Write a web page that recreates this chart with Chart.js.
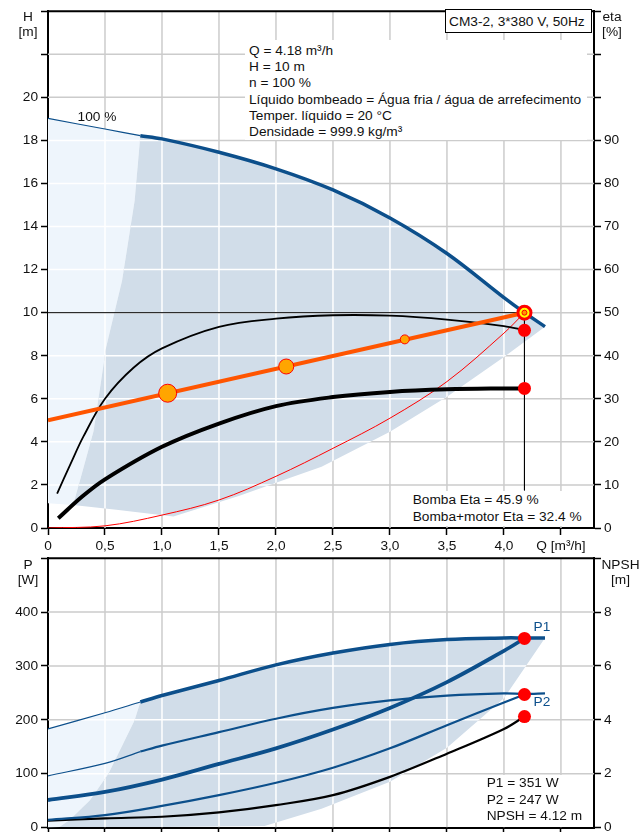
<!DOCTYPE html>
<html>
<head>
<meta charset="utf-8">
<script src="https://cdn.jsdelivr.net/npm/chart.js@4.4.1/dist/chart.umd.min.js"></script>
<style>
  html, body { margin: 0; padding: 0; background: #fff; overflow: hidden; width: 639px; height: 832px; }
  body { position: relative; font-family: 'Liberation Sans', Arial, sans-serif; font-size: 13.7px; color: #111; }
  canvas { position: absolute; left: 0; }
  #topChart { top: 0; }
  #botChart { top: 547px; }
  .t { position: absolute; white-space: nowrap; line-height: 16.2px; box-sizing: border-box; }
  .c { text-align: center; line-height: 14.5px; }
  .bg { background: #fff; }
</style>
</head>
<body>
<canvas id="topChart" width="639" height="556"></canvas>
<canvas id="botChart" width="639" height="310"></canvas>

<div class="t c" style="left:8px;top:10px;width:40px">H<br>[m]</div>
<div class="t c" style="left:592px;top:10px;width:40px">eta<br>[%]</div>
<div class="t c" style="left:8px;top:557px;width:40px;line-height:15px">P<br>[W]</div>
<div class="t c" style="left:600px;top:557px;width:41px;line-height:15px">NPSH<br>[m]</div>

<div class="t bg" style="left:445px;top:9px;width:147px;height:24px;border:1px solid #000;padding:2px 0 0 3px;line-height:19px">CM3-2, 3*380 V, 50Hz</div>
<div class="t bg" style="left:245px;top:40px;width:342px;height:100px;padding:3px 0 0 4px">Q = 4.18 m³/h<br>H = 10 m<br>n = 100 %<br>Líquido bombeado = Água fria / água de arrefecimento<br>Temper. líquido = 20 °C<br>Densidade = 999.9 kg/m³</div>
<div class="t" style="left:67px;top:109px;width:60px;text-align:center">100 %</div>
<div class="t bg" style="left:410px;top:491px;width:180px;height:35px;padding:1.4px 0 0 2.7px">Bomba Eta = 45.9 %<br>Bomba+motor Eta = 32.4 %</div>

<div class="t" style="left:533.5px;top:619px;color:#0c4f8b">P1</div>
<div class="t" style="left:533.5px;top:694px;color:#0c4f8b">P2</div>
<div class="t bg" style="left:484px;top:775px;width:106px;height:52px;padding:0.4px 0 0 2.7px">P1 = 351 W<br>P2 = 247 W<br>NPSH = 4.12 m</div>

<script>
// flow axis, shared by both panels (m³/h)
const qMax = 4.79;
const xTickValues = [0, 0.5, 1, 1.5, 2, 2.5, 3, 3.5, 4, 4.5];
const xTickLabels = ['0', '0,5', '1,0', '1,5', '2,0', '2,5', '3,0', '3,5', '4,0', 'Q [m³/h]'];

// top panel axes
const hTickValues = [0, 2, 4, 6, 8, 10, 12, 14, 16, 18, 20, 22, 24];
const hTickLabels = ['0', '2', '4', '6', '8', '10', '12', '14', '16', '18', '20', '', ''];
const etaTickValues = [0, 10, 20, 30, 40, 50, 60, 70, 80, 90, 100, 110, 120];
const etaTickLabels = ['0', '10', '20', '30', '40', '50', '60', '70', '80', '90', '', '', ''];

// bottom panel axes
const pTickValues = [0, 100, 200, 300, 400, 500];
const pTickLabels = ['0', '100', '200', '300', '400', ''];
const npshTickValues = [0, 2, 4, 6, 8, 10];
const npshTickLabels = ['0', '2', '4', '6', '8', ''];

// QH curve at 100 % speed
const hQ   = [0, 0.5, 0.81, 1.0, 1.5, 2.0, 2.5, 3.0, 3.5, 4.0, 4.18, 4.36];
const hVal = [19.02, 18.53, 18.22, 18.07, 17.45, 16.68, 15.7, 14.4, 12.75, 10.7, 10.0, 9.35];

// efficiency, pump only and pump+motor (%)
const etaPumpQ   = [0.08, 0.2, 0.31, 0.5, 0.75, 1.0, 1.5, 2.0, 2.5, 3.0, 3.5, 4.0, 4.18];
const etaPumpVal = [8, 15, 21.2, 30, 37.2, 41.7, 46.7, 48.6, 49.4, 49.3, 48.4, 46.9, 45.9];
const etaTotQ    = [0.09, 0.3, 0.5, 1.0, 1.5, 2.0, 2.5, 3.0, 3.5, 4.0, 4.18];
const etaTotVal  = [2.25, 7.3, 11.3, 18.85, 24.25, 28.3, 30.4, 31.6, 32.2, 32.4, 32.4];

// control curve and its speed markers
const ctrlQ = [0, 4.18];
const ctrlH = [5.0, 10.0];
const ctrlMarkQ = [1.05, 2.09, 3.13];
const ctrlMarkH = [6.26, 7.5, 8.76];
const ctrlMarkR = [9, 7.5, 4.5];

// system curve through the duty point
const sysQ = [0, 0.5, 1.0, 1.5, 2.0, 2.5, 3.0, 3.5, 4.0, 4.18];
const sysH = [0, 0.1, 0.6, 1.3, 2.4, 3.7, 5.1, 6.8, 9.05, 10.0];

// duty point and read-off values
const dutyQ = 4.18, dutyH = 10.0, dutyEtaPump = 45.9, dutyEtaTot = 32.4;
const guideQ = [0, 4.18, 4.18];
const guideH = [10, 10, 1.75];

// shaded operating range, top panel
const lightTopQ = [0, 0.5, 0.81, 0.76, 0.65, 0.51, 0.4, 0.28, 0.22, 0];
const lightTopH = [19.02, 18.53, 18.22, 15.2, 11.5, 8.4, 4.5, 2.2, 1.07, 1.15];
const darkTopQ = [0.81, 1.0, 1.5, 2.0, 2.5, 3.0, 3.5, 4.0, 4.0, 4.18, 4.36, 4.0, 3.5, 3.0, 2.4, 2.0, 1.68, 1.1, 0.6, 0.22, 0.28, 0.4, 0.51, 0.65, 0.76];
const darkTopH = [18.22, 18.07, 17.45, 16.68, 15.7, 14.4, 12.75, 10.7, 10.0, 10.0, 9.35, 7.94, 6.09, 4.47, 2.84, 2.1, 1.5, 0.53, 0.85, 1.07, 2.2, 4.5, 8.4, 11.5, 15.2];

// power curves at 100 % speed (W)
const pFlatQ = [0, 0.5, 0.81, 1.0, 1.5, 2.0, 2.5, 3.0, 3.5, 4.0, 4.18, 4.36];
const p1Flat = [183, 213, 233, 245, 273, 302, 324, 340, 349, 352, 352, 352];
const p2Flat = [96, 119, 141, 152, 177, 202, 222, 236, 245, 249, 248, 249];

// power and NPSH along the control curve
const ctrlCurveQ = [0, 0.5, 1.0, 1.5, 2.0, 2.5, 3.0, 3.5, 4.0, 4.18];
const p1Ctrl  = [51, 66, 89, 118, 147, 182, 222, 270, 328, 351];
const p2Ctrl  = [14, 23, 40, 60, 83, 111, 147, 190, 232, 247];
const npshVal = [0.25, 0.34, 0.4, 0.56, 0.83, 1.2, 1.88, 2.74, 3.66, 4.12];
const dutyP1 = 351, dutyP2 = 247, dutyNpsh = 4.12;

// shaded operating range, bottom panel
const lightBotQ = [0, 0.5, 0.81, 0.76, 0.53, 0.37, 0.19, 0.1, 0];
const lightBotP = [183, 213, 233, 199, 100, 51, 14, 1, 0];
const darkBotQ = [0.81, 1.0, 1.5, 2.0, 2.5, 3.0, 3.5, 4.0, 4.18, 4.36, 4.0, 3.5, 3.0, 2.4, 1.9, 1.0, 0.1, 0.19, 0.37, 0.53, 0.76];
const darkBotP = [233, 245, 273, 302, 324, 340, 349, 352, 352, 352, 240, 148, 85, 35, 3, 1, 1, 14, 51, 100, 199];

const FONT = "'Liberation Sans', Arial, sans-serif";
const BLUE = '#0c4f8b';
const LIGHT = '#eef5fc';
const DARK = '#d1dde9';
const GRID = '#cccccc';

function xy(qs, vs) {
  return qs.map((q, i) => ({ x: q, y: vs[i] }));
}

function curve(data, color, width, axis, tension) {
  return {
    data, borderColor: color, borderWidth: width, pointRadius: 0,
    tension: tension === undefined ? 0.35 : tension, fill: false, yAxisID: axis || 'y',
  };
}

function dots(data, radius, fillColor, borderColor, borderWidth, axis) {
  return {
    data, showLine: false, pointRadius: radius, pointHoverRadius: radius,
    pointBackgroundColor: fillColor, pointBorderColor: borderColor,
    pointBorderWidth: borderWidth, yAxisID: axis || 'y',
  };
}

// grid, shaded polygons (with white grid inside them) and the top frame line
function shadePlugin(regions) {
  function gridPath(chart) {
    const { chartArea: a, scales } = chart;
    const p = new Path2D();
    scales.x.ticks.forEach(t => {
      const px = scales.x.getPixelForValue(t.value);
      if (px > a.left + 2 && px < a.right - 2) { p.moveTo(px, a.top); p.lineTo(px, a.bottom); }
    });
    scales.y.ticks.forEach(t => {
      const py = scales.y.getPixelForValue(t.value);
      if (py > a.top + 2 && py < a.bottom - 2) { p.moveTo(a.left, py); p.lineTo(a.right, py); }
    });
    return p;
  }
  return {
    id: 'shade',
    beforeDatasetsDraw(chart) {
      const { ctx, chartArea: a, scales } = chart;
      const xs = scales.x, ys = scales.y;
      const grid = gridPath(chart);
      ctx.save();
      ctx.beginPath();
      ctx.rect(a.left, a.top, a.right - a.left, a.bottom - a.top);
      ctx.clip();
      ctx.lineWidth = 1.5;
      ctx.strokeStyle = GRID;
      ctx.stroke(grid);
      regions.forEach(r => {
        const p = new Path2D();
        r.q.forEach((q, i) => {
          const px = xs.getPixelForValue(q), py = ys.getPixelForValue(r.v[i]);
          if (i) p.lineTo(px, py); else p.moveTo(px, py);
        });
        p.closePath();
        ctx.fillStyle = r.color;
        ctx.fill(p);
        ctx.save();
        ctx.clip(p);
        ctx.strokeStyle = '#fff';
        ctx.stroke(grid);
        ctx.restore();
      });
      ctx.restore();
    },
    afterDraw(chart) {
      const { ctx, chartArea: a } = chart;
      ctx.save();
      ctx.strokeStyle = '#000';
      ctx.lineWidth = 2;
      ctx.beginPath();
      ctx.moveTo(a.left - 1, a.top);
      ctx.lineTo(a.right + 1, a.top);
      ctx.stroke();
      ctx.restore();
    },
  };
}

function tickFont() {
  return { family: FONT, size: 13.7 };
}

function xAxis(height) {
  return {
    type: 'linear', min: 0, max: qMax,
    border: { display: true, color: '#000', width: 2 },
    grid: { drawOnChartArea: false, tickColor: '#000', tickLength: 7, tickWidth: 1.5 },
    ticks: { autoSkip: false, maxRotation: 0, padding: 3, color: '#111', font: tickFont(),
             callback: (v, i) => xTickLabels[i] },
    afterBuildTicks: s => { s.ticks = xTickValues.map(v => ({ value: v })); },
    afterFit: s => { s.height = height; },
  };
}

function yAxis(pos, max, values, labels, width) {
  return {
    type: 'linear', position: pos, min: 0, max,
    border: { display: true, color: '#000', width: 2 },
    grid: { drawOnChartArea: false, tickColor: '#000', tickLength: 7, tickWidth: 1.5 },
    ticks: { padding: 3, color: '#111', font: tickFont(), callback: (v, i) => labels[i] },
    afterBuildTicks: s => { s.ticks = values.map(v => ({ value: v })); },
    afterFit: s => { s.width = width; },
  };
}

function baseOptions(top, xHeight, y, y2) {
  return {
    responsive: false,
    animation: false,
    events: [],
    layout: { padding: { top, left: 0, right: 0, bottom: 0 } },
    plugins: { legend: { display: false }, tooltip: { enabled: false } },
    scales: { x: xAxis(xHeight), y, y2 },
  };
}

// ---- top panel: head and efficiency ----
new Chart(document.getElementById('topChart'), {
  type: 'line',
  data: {
    datasets: [
      dots([{ x: dutyQ, y: dutyH }], 2.5, '#ff9900', '#ff0000', 1),
      dots([{ x: dutyQ, y: dutyH }], 6.5, '#ffff00', '#ff0000', 3),
      dots([{ x: dutyQ, y: dutyEtaPump }, { x: dutyQ, y: dutyEtaTot }], 6.5, '#ff0000', '#ff0000', 0, 'y2'),
      dots(xy(ctrlMarkQ, ctrlMarkH), ctrlMarkR, '#ffa500', '#ff0000', 1),
      curve(xy(ctrlQ, ctrlH), '#ff5500', 4, 'y', 0),
      curve(xy(hQ.slice(2), hVal.slice(2)), BLUE, 3.5),
      curve(xy(hQ.slice(0, 3), hVal.slice(0, 3)), BLUE, 1.2),
      curve(xy(etaPumpQ, etaPumpVal), '#000', 1.8, 'y2'),
      curve(xy(etaTotQ, etaTotVal), '#000', 4, 'y2'),
      curve(xy(sysQ, sysH), '#ff0000', 1),
      curve(xy(guideQ, guideH), '#000', 1, 'y', 0),
    ],
  },
  options: baseOptions(10, 28,
    yAxis('left', 24, hTickValues, hTickLabels, 48),
    yAxis('right', 120, etaTickValues, etaTickLabels, 45)),
  plugins: [shadePlugin([
    { q: lightTopQ, v: lightTopH, color: LIGHT },
    { q: darkTopQ, v: darkTopH, color: DARK },
  ])],
});

// ---- bottom panel: power and NPSH ----
new Chart(document.getElementById('botChart'), {
  type: 'line',
  data: {
    datasets: [
      dots([{ x: dutyQ, y: dutyP1 }, { x: dutyQ, y: dutyP2 }], 6.5, '#ff0000', '#ff0000', 0),
      dots([{ x: dutyQ, y: dutyNpsh }], 6.5, '#ff0000', '#ff0000', 0, 'y2'),
      curve(xy(pFlatQ.slice(2), p1Flat.slice(2)), BLUE, 3.5),
      curve(xy(pFlatQ.slice(0, 3), p1Flat.slice(0, 3)), BLUE, 1.2),
      curve(xy(pFlatQ.slice(2), p2Flat.slice(2)), BLUE, 2.2),
      curve(xy(pFlatQ.slice(0, 3), p2Flat.slice(0, 3)), BLUE, 1.2),
      curve(xy(ctrlCurveQ, p1Ctrl), BLUE, 3.8),
      curve(xy(ctrlCurveQ, p2Ctrl), BLUE, 2.2),
      curve(xy(ctrlCurveQ, npshVal), '#000', 2.2, 'y2'),
    ],
  },
  options: baseOptions(10, 29.5,
    yAxis('left', 500, pTickValues, pTickLabels, 48),
    yAxis('right', 10, npshTickValues, npshTickLabels, 45)),
  plugins: [shadePlugin([
    { q: lightBotQ, v: lightBotP, color: LIGHT },
    { q: darkBotQ, v: darkBotP, color: DARK },
  ])],
});
</script>
</body>
</html>
